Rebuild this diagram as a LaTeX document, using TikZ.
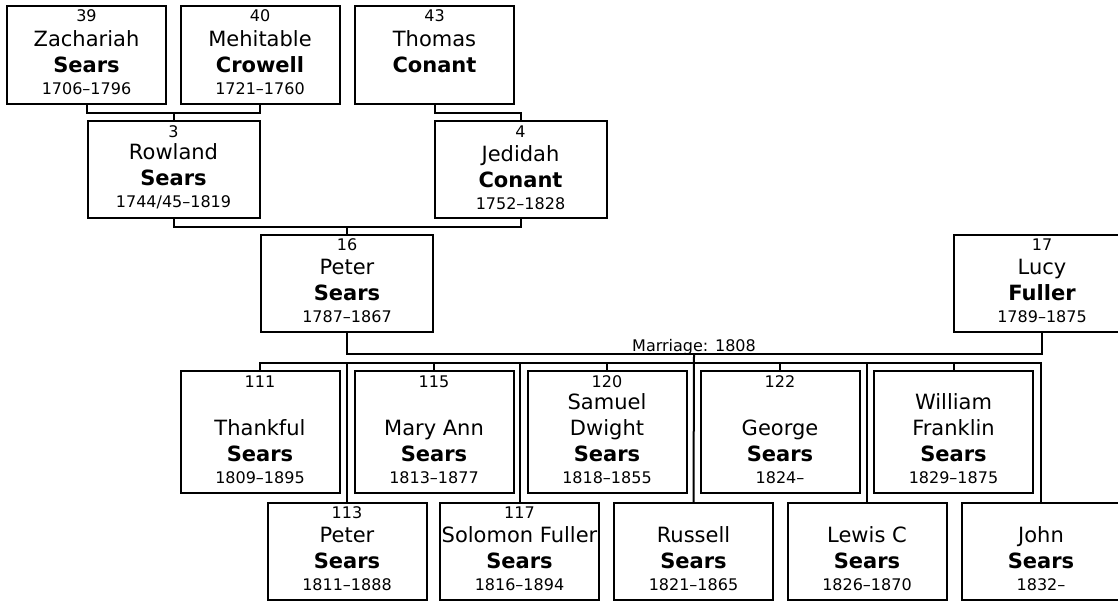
\documentclass[tikz,border=0pt]{standalone}
\usepackage{fontspec}
\setmainfont{DejaVu Sans}
\newcommand{\datefont}{\fontsize{16}{19}\selectfont}
\newcommand{\person}[7]{%
  \node[box,#2] (#1) at (#3) {};
  \node[num] (#1-num) at ([yshift=-16pt]#1.north) {#4};
  \node[info] (#1-info) at ([yshift=9pt]#1.south) {#5\\\textbf{#6}\\[-4pt]{\datefont #7}};
}

\begin{document}
\begin{tikzpicture}[x=1pt,y=-1pt]
  \tikzset{box/.style={draw,line width=2pt,inner sep=0pt,outer sep=0pt,fill=white}};
  \tikzset{anc/.style={minimum width=159pt,minimum height=98pt}};
  \tikzset{par/.style={minimum width=172pt,minimum height=97pt}};
  \tikzset{wide/.style={minimum width=176pt,minimum height=97pt}};
  \tikzset{kid/.style={minimum width=159pt,minimum height=122pt}};
  \tikzset{kidlow/.style={minimum width=159pt,minimum height=97pt}};
  \tikzset{num/.style={anchor=base,inner sep=0pt,font=\datefont}};
  \tikzset{info/.style={anchor=south,inner sep=0pt,align=center,font=\fontsize{21}{26}\selectfont}};
  \tikzset{link/.style={line width=2pt}};

  \useasboundingbox (0,0) rectangle (1118,601);
  \clip (0,0) rectangle (1118,601);

  % grandparents
  \person{p39}{anc}{86.5,55}{39}{Zachariah}{Sears}{1706--1796}
  \person{p40}{anc}{260,55}{40}{Mehitable}{Crowell}{1721--1760}
  \person{p43}{anc}{434.5,55}{43}{Thomas}{Conant}{\phantom{0}}
  \person{p3}{par}{173.5,170}{3}{Rowland}{Sears}{1744/45--1819}
  \person{p4}{par}{520.5,170}{4}{Jedidah}{Conant}{1752--1828}

  % couple
  \person{p16}{par}{347,283.5}{16}{Peter}{Sears}{1787--1867}
  \person{p17}{wide}{1042,283.5}{17}{Lucy}{Fuller}{1789--1875}

  % children
  \person{p111}{kid}{260,432}{111}{Thankful}{Sears}{1809--1895}
  \person{p115}{kid}{434,432}{115}{Mary Ann}{Sears}{1813--1877}
  \person{p120}{kid}{607,432}{120}{Samuel\\Dwight}{Sears}{1818--1855}
  \person{p122}{kid}{780,432}{122}{George}{Sears}{1824--}
  \person{pwilliam}{kid}{953.5,432}{}{William\\Franklin}{Sears}{1829--1875}
  \person{p113}{kidlow}{347,551}{113}{Peter}{Sears}{1811--1888}
  \person{p117}{kidlow}{519.5,551}{117}{Solomon Fuller}{Sears}{1816--1894}
  \person{prussell}{kidlow}{693.5,551}{}{Russell}{Sears}{1821--1865}
  \person{plewis}{kidlow}{867,551}{}{Lewis C}{Sears}{1826--1870}
  \person{pjohn}{kidlow}{1041,551}{}{John}{Sears}{1832--}

  \coordinate (top1) at (173.5,113);
  \coordinate (top2) at (520.5,113);
  \coordinate (mid) at (347,227);
  \coordinate (marr) at (694,354);
  \coordinate (kids) at (694,363);

  \draw[link] (p39.south) |- (top1) -| (p40.south);
  \draw[link] (top1) -- (p3.north);
  \draw[link] (p43.south) |- (top2) -- (p4.north);
  \draw[link] (p3.south) |- (mid) -| (p4.south);
  \draw[link] (mid) -- (p16.north);
  \draw[link] (p16.south) |- (marr) -| (p17.south);
  \draw[link] (marr) -- (prussell.north);
  \draw[link] (p111.north) |- (kids) -| (pjohn.north);
  \foreach \k in {p113,p115,p117,p120,p122,pwilliam,plewis}
    \draw[link] (\k.north) -- (\k.north |- kids);

  \node[num] (marrtext) at ([yshift=3pt]marr) {Marriage: 1808};
\end{tikzpicture}
\end{document}
